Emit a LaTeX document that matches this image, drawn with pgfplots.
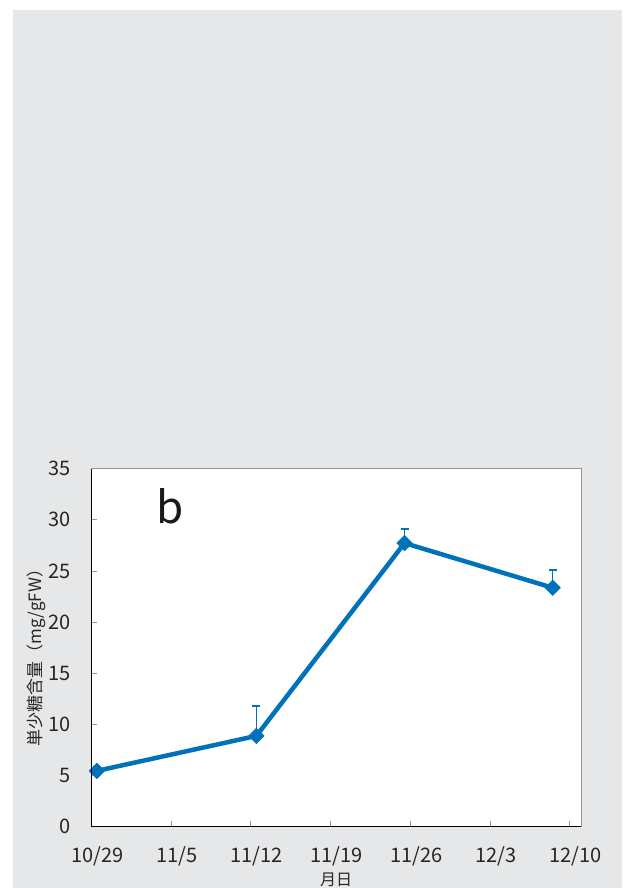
\documentclass[border=0pt]{standalone}
\usepackage{pgfplots}
\usepackage{pgfplotstable}
\pgfplotsset{compat=1.18}
\usepackage{fontspec}
\setmainfont{Noto Sans CJK JP}
\definecolor{bgg}{RGB}{230,231,232}
\definecolor{ser}{RGB}{0,114,188}
\definecolor{frm}{RGB}{150,150,150}

\pgfplotstableread{
x y e
0.5 -7.42 0.50
14.5 -12.83 0.37
27.5 -18.83 1.10
40.5 -17.41 0.00
}\dataA
\pgfplotstableread{
x y e
0.5 5.45 0.40
14.5 8.87 2.90
27.5 27.72 1.37
40.5 23.35 1.73
}\dataB

\pgfplotsset{
 myax/.style={
  scale only axis, clip=false,
  /pgf/number format/assume math mode=true,
  axis background/.style={fill=white},
  axis line style={frm, line width=0.8pt},
  tick style={frm, line width=0.8pt}, tick align=inside, major tick length=6pt,
  ytick pos=left, xtick pos=left,
  xmin=0, xmax=43, xtick={0,7,...,42},
  xticklabels={10/29,11/5,11/12,11/19,11/26,12/3,12/10},
  tick label style={font=\fontsize{20}{20}\selectfont, text=black!85},
  xticklabel style={anchor=north, inner sep=0pt, yshift=-20pt, xshift=6pt},
  yticklabel style={anchor=east, inner sep=0pt, xshift=-20pt},
  after end axis/.code={\draw[black, line width=1.1pt] (axis description cs:0,1) -- (axis description cs:0,0) -- (axis description cs:1,0);},
 },
 myplot/.style={ser, line width=4.5pt, line join=round, mark=square*, mark size=5.5pt,
  mark options={solid, rotate=45, line width=0.5pt, fill=ser},
  error bars/y explicit,
  error bars/error bar style={line width=1.5pt, ser},
  error bars/error mark options={rotate=90, mark size=4pt, line width=1.5pt, ser}},
}

\begin{document}
\begin{tikzpicture}[x=1pt,y=1pt]
\path[use as bounding box] (0,0) rectangle (630,888);
\fill[bgg] (12.7,0) rectangle (622,878);

% panel a: the axis runs from -6 (bottom) to -20 (top); y expr flips the sign for drawing
\begin{axis}[myax, name=A, at={(97,503)}, anchor=south west, width=473pt, height=352pt,
  ymin=6, ymax=20, ytick={6,8,10,12,14,16,18,20},
  yticklabels={−6,−8,−10,−12,−14,−16,−18,−20}]
\addplot[myplot, error bars/y dir=minus] table[x=x, y expr=-\thisrow{y}, y error=e] {\dataA};
\node[anchor=base west, font=\fontsize{44}{44}\selectfont, text=black!90] at (axis description cs:0.085,0.852) {a};
\node[rotate=90, font=\fontsize{16}{16}\selectfont, text=black!85] at (axis description cs:-0.152,0.5) {耐凍性（LT\textsubscript{50}：°C）};
\node[font=\fontsize{16}{16}\selectfont, text=black!85] at (axis description cs:0.5,-0.15) {月日};
\end{axis}

\begin{axis}[myax, name=B, at={(80,60)}, anchor=south west, width=490pt, height=358pt,
  ymin=0, ymax=35, ytick={0,5,...,35}]
\addplot[myplot, error bars/y dir=plus] table[x=x, y=y, y error=e] {\dataB};
\node[anchor=base west, font=\fontsize{44}{44}\selectfont, text=black!90] at (axis description cs:0.127,0.846) {b};
\node[rotate=90, font=\fontsize{17}{17}\selectfont, text=black!85] at (axis description cs:-0.112,0.483) {単少糖含量（mg/gFW）};
\node[font=\fontsize{16}{16}\selectfont, text=black!85] at (axis description cs:0.5,-0.148) {月日};
\end{axis}
\end{tikzpicture}
\end{document}
